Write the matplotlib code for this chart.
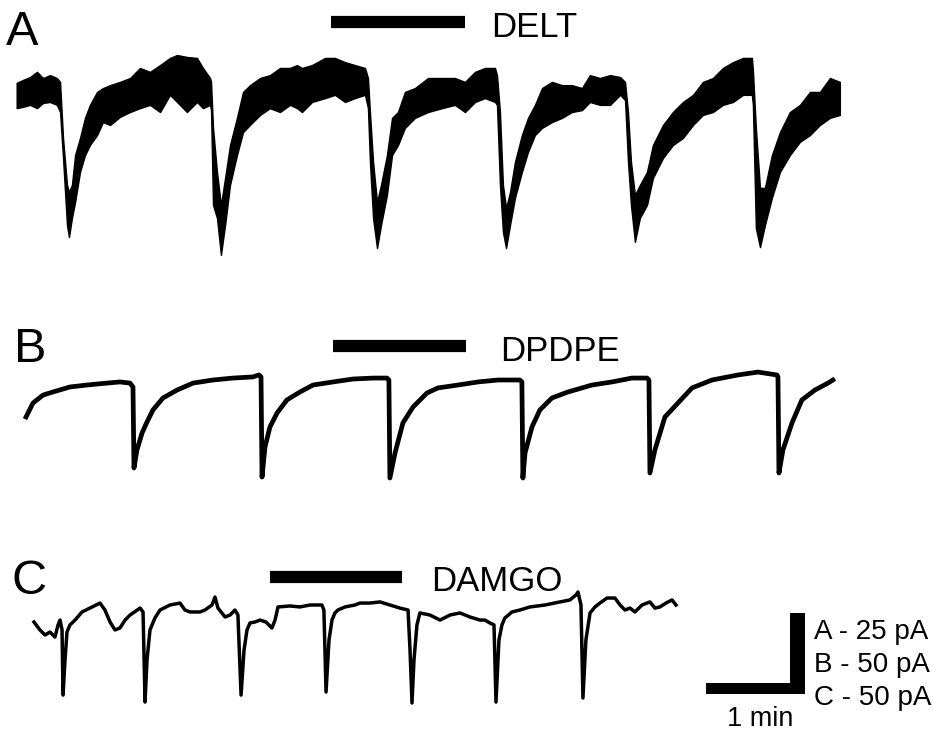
import matplotlib.pyplot as plt
from matplotlib.patches import Rectangle

plt.rcParams['font.family'] = ['Liberation Sans', 'DejaVu Sans']

# Trace A (DELT): time (s) with upper and lower edge of the noisy current band (pA)
a_t = [0.4, 4.2, 8.5, 12.7, 16.4, 20.6, 24.8, 26.7, 28.5, 30.9, 32.1, 33.9, 35.8, 38.8,
       41.8, 44.8, 49.1, 52.7, 57.0, 63.0, 69.1, 75.1, 81.2, 87.3, 93.3, 97.6, 103.6, 109.7,
       113.3, 117.6, 118.2, 119.4, 121.8, 124.2, 126.7, 129.7, 133.9, 137.6, 141.8, 147.9,
       153.9, 160.0, 166.0, 170.3, 173.3, 179.4, 187.3, 193.3, 199.4, 205.4, 211.5, 213.3,
       214.5, 216.4, 218.8, 221.2, 224.8, 227.9, 231.5, 235.7, 241.8, 249.7, 258.2, 266.0,
       272.1, 278.2, 284.2, 290.3, 291.5, 293.3, 295.1, 297.0, 299.4, 302.4, 306.6, 310.3,
       314.5, 318.8, 324.8, 330.9, 336.9, 343.0, 347.8, 353.9, 360.0, 366.1, 369.1, 370.9,
       372.7, 375.1, 378.1, 382.4, 386.0, 392.1, 398.1, 404.2, 410.3, 416.3, 422.4, 428.4,
       434.5, 440.6, 446.0, 446.6, 448.4, 450.9, 453.9, 458.1, 463.0, 469.0, 475.1, 481.2,
       487.2, 493.3, 499.3]
a_hi = [2.2, 3.1, 4.0, 5.6, 3.7, 4.6, 3.7, 2.5, -14.8, -29.3, -31.5, -29.3, -20.1, -14.8,
        -8.6, -4.6, -0.6, 0.6, 1.5, 2.5, 3.7, 6.8, 5.6, 7.7, 9.9, 10.8, 10.2, 9.9,
        6.8, 3.7, 2.5, -11.7, -25.3, -35.5, -27.2, -17.0, -8.6, -0.6, 1.5, 3.7,
        4.6, 6.8, 6.8, 7.7, 6.8, 7.7, 9.9, 9.9, 8.6, 7.7, 6.8, 3.7,
        -6.8, -22.2, -34.6, -29.3, -20.1, -8.6, -6.8, -0.6, 0.6, 3.7, 3.7, 3.7,
        2.5, 5.6, 6.8, 6.8, 4.6, -6.8, -29.3, -36.4, -31.5, -22.2, -13.9, -8.6,
        -4.6, 0.6, 2.5, 1.5, 1.5, 0.6, 4.6, 3.7, 4.6, 4.0, 2.5, -6.8,
        -22.2, -32.4, -29.3, -25.3, -17.0, -10.8, -6.8, -3.7, -1.5, 2.5, 3.7, 6.8,
        8.6, 9.9, 9.9, 6.2, -11.7, -30.2, -30.2, -20.1, -13.0, -6.8, -4.6, -0.6,
        -0.6, 3.7, 2.5]
a_lo = [-5.6, -5.2, -4.6, -5.6, -4.0, -3.7, -4.6, -6.8, -21.0, -41.7, -45.4, -39.5, -34.6, -25.3,
        -20.1, -17.0, -13.9, -9.9, -10.8, -8.3, -6.8, -5.6, -4.6, -6.8, -1.5, -3.7, -6.8, -3.7,
        -5.6, -4.6, -6.2, -35.5, -39.5, -50.9, -41.7, -29.3, -20.1, -13.0, -10.8, -7.7,
        -5.6, -6.8, -4.6, -5.6, -6.8, -3.7, -2.5, -1.5, -3.7, -2.5, -1.5, -5.6,
        -22.2, -39.5, -48.8, -41.7, -32.4, -20.1, -17.0, -11.7, -8.6, -6.8, -5.6, -4.6,
        -6.8, -3.7, -2.5, -3.7, -4.6, -29.3, -43.8, -48.8, -41.7, -33.3, -25.3, -19.1,
        -13.9, -11.7, -9.9, -8.6, -6.8, -6.2, -3.7, -4.6, -4.6, -1.5, -3.1, -22.2,
        -35.5, -46.9, -39.5, -35.5, -27.2, -21.0, -17.0, -14.8, -10.8, -7.7, -6.8, -4.6,
        -3.7, -1.5, -1.5, -4.6, -42.6, -48.5, -41.7, -33.3, -25.3, -20.1, -16.0, -13.9,
        -10.8, -8.6, -7.7]

# Trace B (DPDPE): time (s), current (pA)
b_t = [6.1, 10.3, 16.4, 22.4, 32.7, 43.0, 55.2, 63.0, 69.1, 70.9, 71.5, 73.3, 76.4, 79.4,
       83.0, 89.1, 97.6, 107.3, 119.4, 131.5, 143.6, 147.3, 148.5, 149.1, 150.9, 153.9,
       158.2, 164.2, 172.1, 180.0, 192.1, 204.2, 216.4, 224.8, 226.0, 226.6, 229.7, 234.5,
       240.6, 249.1, 255.7, 267.9, 280.0, 292.1, 305.4, 306.6, 307.2, 308.5, 312.7, 317.5,
       324.8, 334.5, 349.1, 361.2, 373.3, 382.4, 383.6, 384.2, 387.2, 393.3, 401.2, 409.7,
       421.8, 437.5, 449.7, 461.2, 461.8, 462.4, 464.8, 470.3, 476.3, 484.2, 492.1, 495.1]
b_i = [-22.8, -14.2, -9.3, -7.4, -4.3, -3.1, -1.9, -1.2, -1.9, -4.3, -54.3, -43.2, -32.7, -25.9,
       -18.5, -11.1, -6.2, -1.9, 0, 1.2, 1.9, 3.1, 1.9, -59.9, -41.4, -29.0,
       -20.4, -12.3, -7.4, -3.1, -1.2, 0.6, 1.2, 1.2, 0, -60.5, -45.1, -26.5,
       -16.7, -8.0, -4.9, -3.1, -1.2, 0, 0, -1.2, -60.5, -45.1, -29.0, -18.5,
       -11.1, -7.4, -3.1, -1.2, 1.2, 1.2, 0, -57.4, -43.2, -22.8, -14.2, -4.9,
       0, 3.1, 4.9, 3.1, 1.9, -57.4, -43.2, -26.5, -12.3, -6.2, -1.9, 0]

# Trace C (DAMGO): time (s), current (pA)
c_t = [10.9, 14.5, 17.6, 20.6, 23.6, 25.5, 26.7, 27.9, 28.5, 29.7, 30.9, 32.7, 35.8, 40.0,
       44.8, 50.9, 53.9, 57.0, 60.0, 63.0, 66.1, 69.1, 75.2, 77.0, 78.2, 79.4, 81.2, 84.2,
       87.3, 93.3, 99.4, 102.4, 105.4, 111.5, 114.5, 118.8, 120.6, 122.4, 126.7, 129.7, 132.7,
       134.5, 136.4, 138.2, 140.0, 141.8, 144.8, 147.9, 151.5, 155.1, 157.0, 158.8, 166.0,
       172.1, 178.2, 185.4, 186.6, 187.9, 189.7, 191.5, 193.3, 195.1, 199.4, 205.4, 208.5,
       214.5, 220.6, 226.6, 232.7, 237.6, 238.8, 240.0, 241.2, 243.0, 244.8, 250.9, 257.0,
       263.0, 269.1, 275.1, 281.2, 284.2, 287.2, 289.7, 290.9, 292.7, 294.5, 296.3, 300.6,
       305.4, 311.5, 320.6, 329.7, 335.7, 339.4, 340.6, 342.4, 343.6, 345.4, 347.9, 350.9,
       353.9, 358.2, 363.0, 366.1, 369.1, 372.1, 375.1, 379.4, 384.2, 387.2, 390.3, 393.9,
       397.6, 400.0]
c_i = [-10.5, -15.4, -18.5, -16.7, -19.8, -12.3, -9.3, -15.4, -55.6, -34.0, -16.7, -12.3, -9.3, -4.3,
       -1.9, 1.2, -3.1, -10.5, -15.4, -14.2, -9.3, -6.2, -1.9, -4.3, -59.9, -34.0, -15.4, -8.0,
       -3.1, 0, 1.2, -3.1, -4.3, -4.3, -3.1, 0, 4.9, -1.9, -7.4, -6.2, -3.1,
       -6.2, -55.6, -27.8, -15.4, -11.1, -10.5, -9.3, -10.5, -14.2, -9.3, -1.2, -0.6,
       -1.2, 0, 0, -3.1, -53.7, -21.6, -9.3, -4.9, -3.1, -1.2, 0, 1.2,
       1.2, 1.9, 0, -1.9, -3.1, -27.8, -60.5, -34.0, -12.3, -4.9, -6.2, -9.3,
       -6.2, -4.9, -7.4, -9.3, -9.3, -11.1, -12.3, -59.9, -21.6, -12.3, -8.0, -4.3,
       -3.1, -1.2, 0, 1.9, 3.1, 6.2, 8.0, 0, -57.4, -21.6, -4.9, -1.2,
       1.2, 4.3, 4.3, 0, -3.1, -1.9, -4.3, 0, 1.9, -1.9, -1.2, 1.2,
       3.1, 0]

# drug application (s)
drug_names = ['DELT', 'DPDPE', 'DAMGO']
drug_on = [191, 192, 154]
drug_off = [272, 273, 234]

panel_names = ['A', 'B', 'C']
scale_labels = ['A - 25 pA', 'B - 50 pA', 'C - 50 pA']
scale_time = 60      # s
scale_current = 50   # pA (B and C; 25 pA for A)

# layout in figure pixels
W, H = 933, 732
PX_PER_S = 99 / 60
T0_PX = 16


def px(x, y):
    return x / W, 1 - y / H


def trace_axes(fig, top, bottom, ref, px_per_pa):
    ax = fig.add_axes([0, 1 - bottom / H, 1, (bottom - top) / H])
    ax.set_xlim(-T0_PX / PX_PER_S, (W - T0_PX) / PX_PER_S)
    ax.set_ylim((ref - bottom) / px_per_pa, (ref - top) / px_per_pa)
    ax.axis('off')
    return ax


fig = plt.figure(figsize=(W / 100, H / 100), dpi=100, facecolor='white')

ax_a = trace_axes(fig, 0, 290, 90, 81 / 25)
ax_b = trace_axes(fig, 290, 500, 380, 81 / 50)
ax_c = trace_axes(fig, 500, 732, 605, 81 / 50)

ax_a.fill_between(a_t, a_lo, a_hi, color='black', lw=1.0)
ax_b.plot(b_t, b_i, color='black', lw=3.4, solid_joinstyle='round')
ax_c.plot(c_t, c_i, color='black', lw=2.5, solid_joinstyle='round')

bar_levels = [21, 21, 17]
for ax, on, off, lev in zip([ax_a, ax_b, ax_c], drug_on, drug_off, bar_levels):
    ax.plot([on, off], [lev, lev], color='black', lw=8.8, solid_capstyle='butt')

# scale bar (C units)
sb_t0, sb_i0 = 418.2, -54.9
h_thick = 11 / (81 / 50)
v_thick = 15 / PX_PER_S
ax_c.add_patch(Rectangle((sb_t0, sb_i0), scale_time, h_thick, color='black', lw=0))
ax_c.add_patch(Rectangle((sb_t0 + scale_time - v_thick, sb_i0), v_thick, scale_current,
                         color='black', lw=0))

# texts
for name, pos in zip(panel_names, [(6, 45), (14, 362), (12, 594)]):
    fig.text(*px(*pos), name, fontsize=35, va='baseline', ha='left')
for name, pos in zip(drug_names, [(491, 37), (500, 361), (431, 591)]):
    fig.text(*px(*pos), name, fontsize=25, va='baseline', ha='left')
for lab, yb in zip(scale_labels, [639, 672, 705]):
    fig.text(*px(814, yb), lab, fontsize=20, va='baseline', ha='left')
fig.text(*px(760, 726), '1 min', fontsize=19.5, va='baseline', ha='center')

fig.savefig('out.png', dpi=100, facecolor='white')
